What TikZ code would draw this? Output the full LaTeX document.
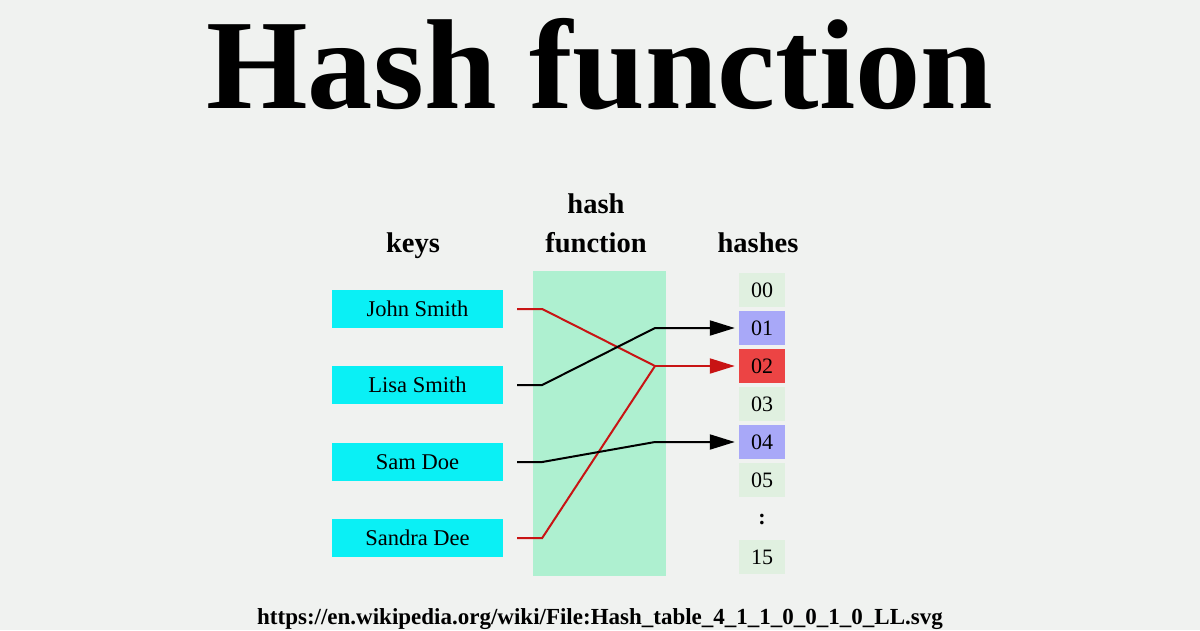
\documentclass[tikz,border=0pt]{standalone}
\usepackage{fontspec}
\setmainfont{Liberation Serif}
\usetikzlibrary{arrows.meta,calc}
\definecolor{bg}{RGB}{240,242,240}
\definecolor{keycyan}{RGB}{10,240,245}
\definecolor{mint}{RGB}{174,240,208}
\definecolor{cellg}{RGB}{224,240,224}
\definecolor{cellb}{RGB}{168,168,248}
\definecolor{cellr}{RGB}{236,68,68}
\definecolor{dred}{RGB}{200,20,20}
\tikzset{
  keybox/.style={rectangle,fill=keycyan,minimum width=171pt,minimum height=38pt,inner sep=0pt,font=\fontsize{22.5}{24}\selectfont},
  cell/.style={rectangle,fill=cellg,minimum width=46pt,minimum height=34pt,inner sep=0pt,font=\fontsize{22}{24}\selectfont},
  head/.style={font=\fontsize{28.5}{30}\selectfont\bfseries,inner sep=0pt,anchor=base},
  conn/.style={line width=2pt},
  tip/.style={-{Triangle[length=25pt,width=15pt]},shorten >=4pt}
}
\begin{document}
\begin{tikzpicture}[x=1pt,y=-1pt]
\fill[bg] (0,0) rectangle (1200,630);
\useasboundingbox (0,0) rectangle (1200,630);
\node[font=\fontsize{128}{130}\selectfont\bfseries,anchor=base,inner sep=0pt,xscale=1.02] (title) at (600,108) {Hash function};
% headers
\node[head] (hkeys) at (413,252) {keys};
\node[head] (hhash) at (596,213) {hash};
\node[head] (hfunc) at (596,252) {function};
\node[head] (hhashes) at (758,252) {hashes};
% hash function band
\node[rectangle,fill=mint,minimum width=133pt,minimum height=305pt,inner sep=0pt] (band) at (599.5,423.5) {};
% keys
\node[keybox] (k1) at (417.5,309) {John Smith};
\node[keybox] (k2) at (417.5,385) {Lisa Smith};
\node[keybox] (k3) at (417.5,462) {Sam Doe};
\node[keybox] (k4) at (417.5,538) {Sandra Dee};
% cells
\node[cell] (c00) at (762,290) {00};
\node[cell,fill=cellb] (c01) at (762,328) {01};
\node[cell,fill=cellr] (c02) at (762,366) {02};
\node[cell] (c03) at (762,404) {03};
\node[cell,fill=cellb] (c04) at (762,442) {04};
\node[cell] (c05) at (762,480) {05};
\node[font=\fontsize{22}{24}\selectfont\bfseries,inner sep=0pt] (dots) at (762,519) {:};
\node[cell] (c15) at (762,557) {15};
% connector points
\coordinate (s1) at ($(k1.east)+(14,0)$);
\coordinate (s2) at ($(k2.east)+(14,0)$);
\coordinate (s3) at ($(k3.east)+(14,0)$);
\coordinate (s4) at ($(k4.east)+(14,0)$);
\coordinate (m) at (655,366);
\draw[conn,dred] (s1) -- ++(25,0) -- (m);
\draw[conn,dred] (s4) -- ++(25,0) -- (m);
\draw[conn,dred,tip] (m) -- (c02.west);
\draw[conn,tip] (s2) -- ++(25,0) -- (655,328) -- (c01.west);
\draw[conn,tip] (s3) -- ++(25,0) -- (655,442) -- (c04.west);
% url
\node[font=\fontsize{23}{25}\selectfont\bfseries,anchor=base,inner sep=0pt] (url) at (600,624) {https://en.wikipedia.org/wiki/File:Hash\_table\_4\_1\_1\_0\_0\_1\_0\_LL.svg};
\end{tikzpicture}
\end{document}
